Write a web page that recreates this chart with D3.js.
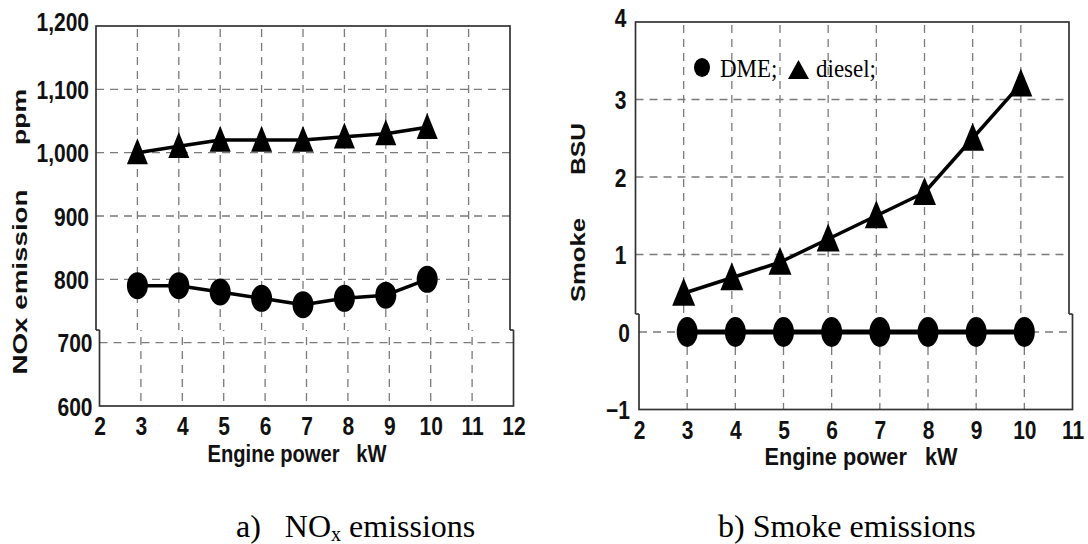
<!DOCTYPE html>
<html>
<head>
<meta charset="utf-8">
<script src="https://cdn.jsdelivr.net/npm/d3@7"></script>
<style>
  html, body { margin: 0; padding: 0; background: #fff; }
  svg { display: block; }
  .sans { font-family: "Liberation Sans", Arial, sans-serif; font-weight: bold; fill: #111; }
  .serif { font-family: "Liberation Serif", "Times New Roman", serif; fill: #000; }
</style>
</head>
<body>
<svg id="fig" width="1088" height="544"></svg>
<script>
// Engine power (kW) for each measured point
const power = [3, 4, 5, 6, 7, 8, 9, 10];

// a) NOx emission, ppm
const noxDiesel = [1000, 1010, 1020, 1020, 1020, 1025, 1030, 1040];
const noxDME    = [790, 790, 780, 770, 760, 770, 775, 800];

// b) Smoke, BSU
const smokeDiesel = [0.5, 0.7, 0.9, 1.2, 1.5, 1.8, 2.5, 3.2];
const smokeDME    = [0, 0, 0, 0, 0, 0, 0, 0];

// Axis ticks
const noxXTicks = [2, 3, 4, 5, 6, 7, 8, 9, 10, 11, 12];
const noxYTicks = [600, 700, 800, 900, 1000, 1100, 1200];
const smokeXTicks = [2, 3, 4, 5, 6, 7, 8, 9, 10, 11];
const smokeYTicks = [-1, 0, 1, 2, 3, 4];

const svg = d3.select("#fig");
const defs = svg.append("defs");

// tall bold lettering used for tick labels
const TICK = { size: 21, sy: 1.2 };

let clipId = 0;
function clipRect(x, y, w, h) {
  const id = "clip" + (clipId++);
  defs.append("clipPath").attr("id", id).append("rect")
    .attr("x", x).attr("y", y).attr("width", w).attr("height", h);
  return `url(#${id})`;
}

function panel(opts) {
  const x = d3.scaleLinear().domain(opts.xDomain).range(opts.xRange);
  const y = d3.scaleLinear().domain(opts.yDomain).range(opts.yRange);
  const [x0, x1] = opts.xRange;
  const [y0, y1] = opts.yRange; // y0 bottom, y1 top
  const brk = opts.breakY, off = opts.breakOffset;
  const line = d3.line().x(d => x(d[0])).y(d => y(d[1]));

  // plot body: grid, frame, series. The lower strip (below brk) sits a few px to the right.
  function body(g) {
    const grid = g.append("g").attr("stroke", "#7a7a7a").attr("stroke-width", 1.3)
      .attr("stroke-dasharray", "8,6").attr("fill", "none");
    grid.selectAll("line.v").data(opts.xTicks.filter(t => t > opts.xDomain[0] && t < opts.xDomain[1]))
      .join("line").attr("class", "v")
      .attr("x1", d => x(d)).attr("x2", d => x(d)).attr("y1", y1 + 3).attr("y2", y0);
    grid.selectAll("line.h").data(opts.yTicks.filter(t => t > opts.yDomain[0] && t < opts.yDomain[1]))
      .join("line").attr("class", "h")
      .attr("x1", x0).attr("x2", x1).attr("y1", d => y(d)).attr("y2", d => y(d));

    g.append("rect").attr("x", x0).attr("y", y1).attr("width", x1 - x0).attr("height", y0 - y1)
      .attr("fill", "none").attr("stroke", "#333").attr("stroke-width", 1.7);

    opts.series.forEach(s => {
      const pts = power.map((p, i) => [p, s.values[i]]);
      g.append("path").datum(pts).attr("d", line).attr("fill", "none")
        .attr("stroke", "#000").attr("stroke-width", s.lineWidth).attr("stroke-linejoin", "round");
      if (s.marker === "triangle") {
        const w = s.size[0], h = s.size[1];
        g.selectAll(null).data(pts).join("path")
          .attr("d", d => `M${x(d[0])},${y(d[1]) - h * 0.55} L${x(d[0]) + w / 2},${y(d[1]) + h * 0.45} L${x(d[0]) - w / 2},${y(d[1]) + h * 0.45} Z`)
          .attr("fill", "#000");
      } else {
        g.selectAll(null).data(pts).join("ellipse")
          .attr("cx", d => x(d[0])).attr("cy", d => y(d[1]))
          .attr("rx", s.size[0]).attr("ry", s.size[1]).attr("fill", "#000");
      }
    });
  }

  const upper = svg.append("g").attr("clip-path", clipRect(0, 0, 1088, brk));
  body(upper);
  const lowerWrap = svg.append("g").attr("clip-path", clipRect(0, brk, 1088, 544 - brk));
  body(lowerWrap.append("g").attr("transform", `translate(${off},0)`));
  // short joins where the two strips meet
  svg.append("g").attr("stroke", "#333").attr("stroke-width", 1.7).selectAll("line")
    .data([x0, x1]).join("line")
    .attr("x1", d => d).attr("x2", d => d + off).attr("y1", brk).attr("y2", brk);

  // axes from d3 generators; their own lines are hidden, the frame stands in for them
  const xAxis = svg.append("g").attr("transform", `translate(${off},${y0})`)
    .call(d3.axisBottom(x).tickValues(opts.xTicks).tickSize(0).tickFormat(d3.format("d")));
  xAxis.select(".domain").remove();
  xAxis.selectAll(".tick text")
    .attr("class", "sans").attr("font-size", TICK.size).attr("fill", null)
    .attr("x", 0).attr("dy", null).attr("y", opts.xLabelBase / TICK.sy)
    .attr("transform", `scale(1,${TICK.sy})`);

  // y tick labels: baseline 9px below the tick, the top one raised a little
  const yAxis = svg.append("g").attr("transform", `translate(${x0},0)`)
    .call(d3.axisLeft(y).tickValues(opts.yTicks).tickSize(0).tickFormat(opts.yFormat));
  yAxis.select(".domain").remove();
  yAxis.selectAll(".tick text")
    .attr("class", "sans").attr("font-size", TICK.size).attr("fill", null)
    .attr("x", d => -opts.yPad + (y(d) > brk ? off : 0)).attr("dy", null)
    .attr("y", 9 / TICK.sy)
    .attr("transform", d => `translate(0,${d === opts.yDomain[1] ? -5 : 0}) scale(1,${TICK.sy})`);

  // x axis title
  svg.append("text").attr("class", "sans").attr("font-size", 21).attr("text-anchor", "middle")
    .attr("transform", `translate(${opts.xTitle.x},${opts.xTitle.y}) scale(1,1.13)`)
    .attr("textLength", opts.xTitle.len).attr("lengthAdjust", "spacingAndGlyphs")
    .attr("xml:space", "preserve").text("Engine power   kW");

  // y axis title (two parts, rotated)
  opts.yTitles.forEach(t => {
    svg.append("text").attr("class", "sans").attr("font-size", t.size).attr("text-anchor", "middle")
      .attr("transform", `translate(${t.x},${t.y}) rotate(-90)`)
      .attr("textLength", t.len).attr("lengthAdjust", "spacingAndGlyphs")
      .attr("dy", "0.35em").text(t.text);
  });
}

// a) NOx
panel({
  xDomain: [2, 12], xRange: [96, 510],
  yDomain: [600, 1200], yRange: [406, 26],
  xTicks: noxXTicks, yTicks: noxYTicks,
  yFormat: d3.format(","), yPad: 7, xLabelBase: 29,
  breakY: 330, breakOffset: 3.5,
  xTitle: { x: 297, y: 462, len: 179 },
  yTitles: [
    { x: 19, y: 117, text: "ppm", len: 56, size: 19 },
    { x: 20, y: 282, text: "NOx emission", len: 185, size: 20 }
  ],
  series: [
    { values: noxDiesel, marker: "triangle", size: [21, 26], lineWidth: 3.5 },
    { values: noxDME, marker: "circle", size: [10.5, 13.5], lineWidth: 3.5 }
  ]
});

// b) Smoke
panel({
  xDomain: [2, 11], xRange: [635.5, 1069],
  yDomain: [-1, 4], yRange: [409.5, 22],
  xTicks: smokeXTicks, yTicks: smokeYTicks,
  yFormat: d3.format("d"), yPad: 9, xLabelBase: 30,
  breakY: 314, breakOffset: 3.5,
  xTitle: { x: 861, y: 465, len: 193 },
  yTitles: [
    { x: 578, y: 149, text: "BSU", len: 52, size: 21 },
    { x: 578, y: 260, text: "Smoke", len: 84, size: 21 }
  ],
  series: [
    { values: smokeDiesel, marker: "triangle", size: [23, 28], lineWidth: 3.5 },
    { values: smokeDME, marker: "circle", size: [10.5, 15], lineWidth: 5 }
  ]
});

// legend inside panel b
const lg = svg.append("g");
lg.append("ellipse").attr("cx", 702).attr("cy", 67.5).attr("rx", 8).attr("ry", 9.5).attr("fill", "#000");
lg.append("text").attr("class", "serif").attr("font-size", 23)
  .attr("transform", "translate(720,77) scale(1,1.12)").text("DME;");
lg.append("path").attr("d", "M798.5,60 L809,79 L788,79 Z").attr("fill", "#000");
lg.append("text").attr("class", "serif").attr("font-size", 23)
  .attr("transform", "translate(816,77) scale(1,1.12)").text("diesel;");

// captions
const capA = svg.append("text").attr("class", "serif").attr("x", 236).attr("y", 537)
  .attr("font-size", 32).attr("xml:space", "preserve");
capA.append("tspan").text("a)   NO");
capA.append("tspan").attr("font-size", 20).attr("dy", 4).text("x");
capA.append("tspan").attr("dy", -4).text(" emissions");

svg.append("text").attr("class", "serif").attr("x", 718).attr("y", 537)
  .attr("font-size", 32).text("b) Smoke emissions");
</script>
</body>
</html>
